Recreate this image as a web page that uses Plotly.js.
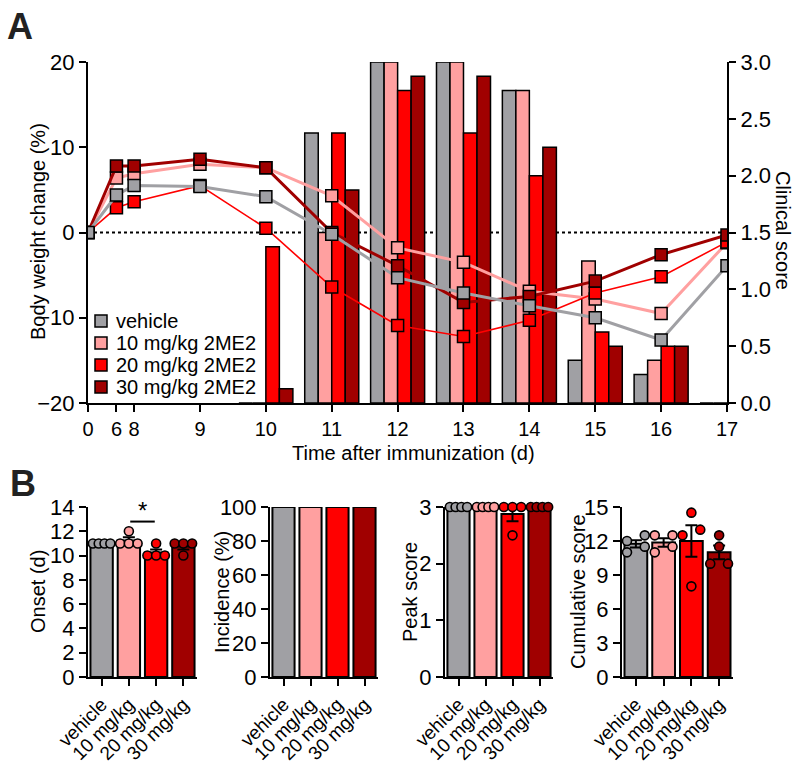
<!DOCTYPE html>
<html><head><meta charset="utf-8">
<script src="https://cdn.plot.ly/plotly-3.0.1.min.js"></script>
<style>html,body{margin:0;padding:0;background:#fff;} #chart{width:800px;height:763px;}</style>
</head><body><div id="chart"></div>
<script>
// ---------- data ----------
const groupNames = ['vehicle', '10 mg/kg 2ME2', '20 mg/kg 2ME2', '30 mg/kg 2ME2'];
const groupTicks = ['vehicle', '10 mg/kg', '20 mg/kg', '30 mg/kg'];
const groupColors = ['#a0a0a4', '#ffa0a0', '#ff0000', '#a00000'];

// Panel A: body weight change (%) - lines
const weightDays = [0, 6, 8, 9, 10, 11, 12, 13, 14, 15, 16, 17];
const weightVehicle = [0, 4.4, 5.5, 5.4, 4.2, -0.2, -5.3, -7.1, -8.6, -10.0, -12.6, -3.9];
const weight10 = [0, 6.4, 6.9, 8.0, 7.6, 4.3, -1.8, -3.5, -6.9, -7.8, -9.5, -1.2];
const weight20 = [0, 2.9, 3.6, 5.5, 0.5, -6.4, -10.9, -12.2, -10.3, -7.1, -5.2, -1.1];
const weight30 = [0, 7.8, 7.8, 8.6, 7.6, 0.0, -3.9, -8.2, -7.5, -5.7, -2.6, -0.3];

// Panel A: clinical score - bars
const scoreDays = [10, 11, 12, 13, 14, 15, 16, 17];
const scoreVehicle = [0, 2.375, 3.0, 3.0, 2.75, 0.375, 0.25, 0];
const score10 = [0, 1.5, 3.0, 3.0, 2.75, 1.25, 0.375, 0];
const score20 = [1.375, 2.375, 2.75, 2.375, 2.0, 0.625, 0.5, 0];
const score30 = [0.125, 1.875, 2.875, 2.875, 2.25, 0.5, 0.5, 0];

const dayTicks = [0, 6, 8, 9, 10, 11, 12, 13, 14, 15, 16, 17];

// Panel B: individual animals
const onsetVals = [[11, 11, 11, 11], [11, 11, 11, 12], [10, 10, 10, 11], [10, 11, 11, 11]];
const incidenceVals = [100, 100, 100, 100];
const peakVals = [[3, 3, 3, 3], [3, 3, 3, 3], [2.5, 3, 3, 3], [3, 3, 3, 3]];
const cumVals = [[11, 11.5, 12, 12.5], [11, 11.5, 12.5, 12.5], [8, 12.5, 13, 14.5], [10, 10, 11.5, 12.5]];

// ---------- helpers ----------
// broken time axis (0-8 compressed, 1 unit per day afterwards)
function dayToPos(d) {
  if (d <= 6) return d * 0.432 / 6;
  if (d <= 8) return 0.432 + (d - 6) * (0.70 - 0.432) / 2;
  return 0.70 + (d - 8);
}
const mean = a => a.reduce((s, v) => s + v, 0) / a.length;
const sem = a => { const m = mean(a); return Math.sqrt(a.reduce((s, v) => s + (v - m) * (v - m), 0) / (a.length - 1)) / Math.sqrt(a.length); };

function dots(valsPerGroup, ymax) {
  const ppu = 170 / ymax;
  const xs = [], ys = [], cs = [];
  valsPerGroup.forEach((vals, gi) => {
    const sorted = vals.slice().sort((a, b) => a - b);
    const rows = [];
    sorted.forEach(v => { const r = rows[rows.length - 1]; if (r && (v - r[0]) * ppu < 8) r.push(v); else rows.push([v]); });
    rows.forEach(row => {
      const n = row.length;
      row.forEach((v, i) => { xs.push(gi + (n > 1 ? -0.32 + i * 0.64 / (n - 1) : 0)); ys.push(v); cs.push(groupColors[gi]); });
    });
  });
  return {xs, ys, cs};
}

const FONT = 'Arial, "Liberation Sans", Helvetica, sans-serif';
const traces = [];

// Panel A bars (clinical score, right axis = yaxis)
[scoreVehicle, score10, score20, score30].forEach((s, i) => {
  traces.push({type: 'bar', name: groupNames[i], x: scoreDays.map(dayToPos), y: s, xaxis: 'x', yaxis: 'y',
    marker: {color: groupColors[i], line: {color: 'black', width: 1.5}}, showlegend: false, hoverinfo: 'skip'});
});
// Panel A lines (body weight, left axis = yaxis2 overlaying)
const weightSeries = [weightVehicle, weight10, weight20, weight30];
const lineWidths = [3, 3, 1.6, 3];
[1, 2, 3, 0].forEach(i => {
  traces.push({type: 'scatter', mode: 'lines+markers', name: groupNames[i], x: weightDays.map(dayToPos), y: weightSeries[i],
    xaxis: 'x', yaxis: 'y2', showlegend: false,
    line: {color: groupColors[i], width: lineWidths[i]},
    marker: {symbol: 'square', size: 12, color: groupColors[i], line: {color: 'black', width: 1.5}}});
});

// Panel B
const panels = [
  {vals: onsetVals, ymax: 14, xa: 'x2', ya: 'y3'},
  {vals: null, ymax: 100, xa: 'x3', ya: 'y4'},
  {vals: peakVals, ymax: 3, xa: 'x4', ya: 'y5'},
  {vals: cumVals, ymax: 15, xa: 'x5', ya: 'y6'}
];
panels.forEach(p => {
  const heights = p.vals ? p.vals.map(mean) : incidenceVals;
  const bar = {type: 'bar', x: [0, 1, 2, 3], y: heights, xaxis: p.xa, yaxis: p.ya, showlegend: false, cliponaxis: false,
    marker: {color: groupColors, line: {color: 'black', width: 2}}};
  if (p.vals) bar.error_y = {type: 'data', array: p.vals.map(sem), color: 'black', thickness: 2, width: 6};
  traces.push(bar);
  if (p.vals) {
    const d = dots(p.vals, p.ymax);
    traces.push({type: 'scatter', mode: 'markers', x: d.xs, y: d.ys, xaxis: p.xa, yaxis: p.ya, showlegend: false, cliponaxis: false,
      marker: {symbol: 'circle', size: 9, color: d.cs, line: {color: 'black', width: 1.6}}});
  }
});

// ---------- layout ----------
const W = 800, H = 763;
const px = v => v / W, py = v => 1 - v / H;
const axBase = {showgrid: false, zeroline: false, showline: true, linecolor: 'black', linewidth: 2,
  ticks: 'outside', ticklen: 7, tickwidth: 2, tickcolor: 'black', tickfont: {family: FONT, size: 22, color: 'black'}, fixedrange: true};
const yA = [py(403), py(62)];
const yB = [py(677), py(507)];
const bxDomains = [[px(88), px(197)], [px(270), px(378)], [px(445), px(553)], [px(622), px(733)]];
const bTitles = ['Onset (d)', 'Incidence (%)', 'Peak score', 'Cumulative score'];
const bTitleX = [38, 222, 410, 578];
const bDticks = [2, 20, 1, 3];

const annotations = [
  {text: '<b>A</b>', x: px(5), y: py(4), xanchor: 'left', yanchor: 'top', font: {size: 36, color: '#222'}},
  {text: '<b>B</b>', x: px(8), y: py(461), xanchor: 'left', yanchor: 'top', font: {size: 36, color: '#222'}},
  {text: 'Body weight change (%)', x: px(38), y: py(232), textangle: -90},
  {text: 'Time after immunization (d)', x: px(413), y: py(453)},
  {text: 'Clinical score', x: px(783), y: py(230), textangle: 90}
];
bTitles.forEach((t, i) => annotations.push({text: t, x: px(bTitleX[i]), y: py(592), textangle: -90}));
annotations.forEach(a => {
  a.xref = 'paper'; a.yref = 'paper'; a.showarrow = false;
  a.xanchor = a.xanchor || 'center'; a.yanchor = a.yanchor || 'middle';
  a.font = Object.assign({family: FONT, size: 20, color: 'black'}, a.font || {});
});
// legend (square symbols + labels)
const legendRows = [321, 343, 365, 387];
const shapes = [
  {type: 'line', xref: 'x', yref: 'y2', x0: 0, x1: dayToPos(17), y0: 0, y1: 0, layer: 'below',
    line: {color: 'black', width: 2, dash: 'dot'}},
  {type: 'line', xref: 'x2', yref: 'y3', x0: 1.05, x1: 1.95, y0: 12.8, y1: 12.8, line: {color: 'black', width: 2}}
];
groupNames.forEach((n, i) => {
  shapes.push({type: 'rect', xref: 'paper', yref: 'paper', x0: px(95), x1: px(107), y0: py(legendRows[i] + 6), y1: py(legendRows[i] - 6),
    fillcolor: groupColors[i], line: {color: 'black', width: 1.5}});
  annotations.push({text: n, xref: 'paper', yref: 'paper', x: px(114), y: py(legendRows[i]), xanchor: 'left', yanchor: 'middle',
    showarrow: false, font: {family: FONT, size: 20, color: 'black'}});
});
annotations.push({text: '*', xref: 'x2', yref: 'y3', x: 1.5, y: 12.8, xanchor: 'center', yanchor: 'bottom', showarrow: false, yshift: -4,
  font: {family: FONT, size: 24, color: 'black'}});

const layout = {
  width: W, height: H, margin: {l: 0, r: 0, t: 0, b: 0},
  paper_bgcolor: 'white', plot_bgcolor: 'rgba(0,0,0,0)',
  font: {family: FONT, size: 20, color: 'black'},
  barmode: 'group', bargap: 0.18, bargroupgap: 0,
  showlegend: false,
  xaxis: Object.assign({}, axBase, {domain: [px(88), px(727)], range: [0, dayToPos(17)], anchor: 'y',
    tickmode: 'array', tickvals: dayTicks.map(dayToPos), ticktext: dayTicks.map(String),
    tickfont: {family: FONT, size: 20, color: 'black'}}),
  yaxis: Object.assign({}, axBase, {domain: yA, range: [0, 3], side: 'right', anchor: 'x',
    tickmode: 'array', tickvals: [0, 0.5, 1, 1.5, 2, 2.5, 3], tickformat: '.1f'}),
  yaxis2: Object.assign({}, axBase, {overlaying: 'y', side: 'left', anchor: 'x', range: [-20, 20],
    tickmode: 'array', tickvals: [-20, -10, 0, 10, 20]}),
  shapes: shapes,
  annotations: annotations
};
bxDomains.forEach((dom, i) => {
  const xk = 'xaxis' + (i + 2), yk = 'yaxis' + (i + 3);
  layout[xk] = Object.assign({}, axBase, {domain: dom, range: [-0.5, 3.5], anchor: 'y' + (i + 3),
    tickmode: 'array', tickvals: [0, 1, 2, 3], ticktext: groupTicks, tickangle: -45,
    tickfont: {family: FONT, size: 19, color: 'black'}});
  layout[yk] = Object.assign({}, axBase, {domain: yB, range: [0, panels[i].ymax], anchor: 'x' + (i + 2),
    dtick: bDticks[i], tick0: 0});
});

Plotly.newPlot('chart', traces, layout, {displayModeBar: false, staticPlot: true});
</script>
</body></html>
